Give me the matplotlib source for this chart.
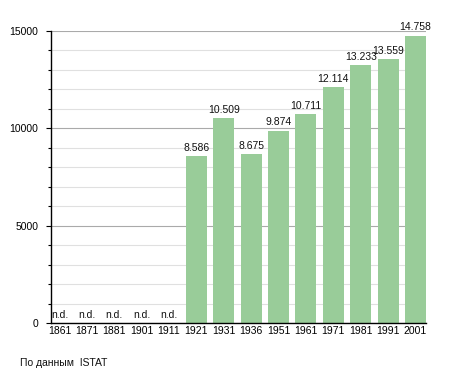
import matplotlib
matplotlib.use("Agg")
import matplotlib.pyplot as plt
from matplotlib.ticker import MultipleLocator

years = ["1861", "1871", "1881", "1901", "1911", "1921", "1931", "1936",
         "1951", "1961", "1971", "1981", "1991", "2001"]
population = [None, None, None, None, None, 8586, 10509, 8675,
              9874, 10711, 12114, 13233, 13559, 14758]
source_note = "По данным  ISTAT"

plt.rcParams['font.family'] = ['Liberation Sans', 'DejaVu Sans']

fig = plt.figure(figsize=(4.55, 3.73), dpi=100)
ax = fig.add_axes([50.5/455, 1-323/373, 375.5/455, (323-31)/373])

x = list(range(len(years)))
vals = [v if v is not None else 0 for v in population]
bar_w = 0.767
ax.bar(x, vals, width=bar_w, color="#99cc99", zorder=3)

for xi, v in zip(x, population):
    if v is None:
        ax.text(xi, 170, "n.d.", ha="center", va="bottom", fontsize=7.5, color="#111111", zorder=4)
    else:
        s = f"{v:,}".replace(",", ".")
        ax.text(xi, v + 170, s, ha="center", va="bottom", fontsize=7.5, color="#111111", zorder=4)

ax.set_xlim(-0.33, len(years) - 1 + bar_w / 2)
ax.set_ylim(0, 15000)
ax.set_xticks(x)
ax.set_xticklabels(years, fontsize=7.5)
ax.tick_params(axis="x", length=0, pad=2)
ax.yaxis.set_major_locator(MultipleLocator(5000))
ax.yaxis.set_minor_locator(MultipleLocator(1000))
ax.tick_params(axis="y", which="major", length=3.8, labelsize=7.5, pad=5, width=0.8)
ax.tick_params(axis="y", which="minor", length=2.2, width=0.8)
ax.grid(axis="y", which="major", color="#aaaaaa", linewidth=0.8, zorder=1)
ax.grid(axis="y", which="minor", color="#e0e0e0", linewidth=0.8, zorder=1)
for s in ["top", "right"]:
    ax.spines[s].set_visible(False)
ax.spines["left"].set_linewidth(1.0)
ax.spines["bottom"].set_linewidth(1.0)
ax.spines["left"].set_zorder(5)
ax.spines["bottom"].set_zorder(5)

fig.text(20/455, 1-363/373, source_note, fontsize=7.5, ha="left", va="center", color="#111111")

fig.savefig("out.png", dpi=100)
